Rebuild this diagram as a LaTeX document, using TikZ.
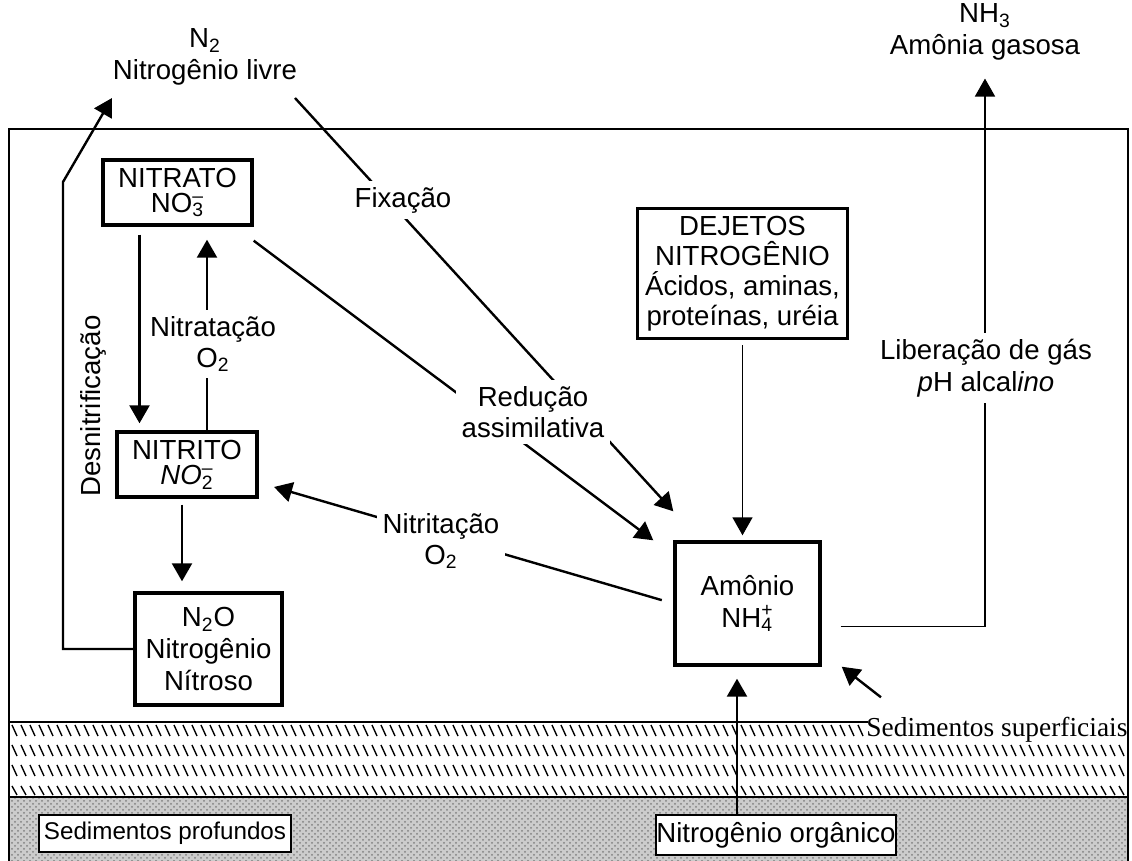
\documentclass[tikz,border=0pt]{standalone}
\usepackage{fontspec}
\setmainfont{Liberation Sans}
\newfontfamily\timesfont{Liberation Serif}
\usepackage{tikz}
\usetikzlibrary{arrows.meta}
\usetikzlibrary{patterns}
\newcommand{\subsup}[2]{\rlap{\textsubscript{#1}}\textsuperscript{#2}}
\tikzstyle{box}=[draw, line width=1.7pt, fill=white, align=center, inner sep=0]
\tikzstyle{proc}=[align=center, inner sep=3pt, fill=white]
\tikzstyle{flow}=[line width=1.2pt, -{Triangle[length=9pt,width=10pt]}]
\tikzstyle{ncycle}=[x=0.5pt, y=-0.5pt,
                    % Same text size everywhere.
                    every node/.style={font=\fontsize{13.8}{15.8}\selectfont}]

\begin{document}
\begin{tikzpicture}[ncycle]
        \useasboundingbox (0,0) rectangle (1132,861);
        % sediments
        \fill[black!20] (9,797) rectangle (1128,861);
        \fill[pattern=crosshatch dots, pattern color=black!50] (9,797) rectangle (1128,861);
        \foreach \ya/\yb/\xe in {725/736/860, 745/756/1120, 765/776/1120, 786/795/1120}
            \foreach \x in {12,21,...,\xe}
                \draw[line width=0.7pt] (\x,\ya) -- (\x+5,\yb);
        \draw[line width=1pt] (9,861) -- (9,129) -- (1128,129) -- (1128,861);
        \draw[line width=1pt] (9,722) -- (868,722);
        \draw[line width=1pt] (9,797) -- (1128,797);

        \node[box, minimum width=74.5pt, minimum height=32.5pt] (nitrato) at (177.5,192.5) {NITRATO\\[-3pt]NO\subsup{3}{--}};
        \node[box, minimum width=70pt, minimum height=32.5pt] (nitrito) at (187,464.5) {NITRITO\\[-3pt]\textit{NO}\subsup{2}{--}};
        \node[box, minimum width=73.5pt, minimum height=56pt] (n2o) at (208.5,649) {N\textsubscript{2}O\\Nitrogênio\\Nítroso};
        \node[box, minimum width=105pt, minimum height=65pt, font=\fontsize{13.8}{15}\selectfont] (dejetos) at (742.5,273.5) {DEJETOS\\NITROGÊNIO\\Ácidos, aminas,\\proteínas, uréia};
        \node[box, minimum width=72.5pt, minimum height=61.5pt] (amonio) at (747.5,603.5) {Amônio\\NH\subsup{4}{+}};
        \node[box, line width=1pt, minimum width=126pt, minimum height=18.5pt, font=\fontsize{12.1}{14}\selectfont] (sedprof) at (165,833.5) {Sedimentos profundos};
        \node[box, line width=1pt, minimum width=117pt, minimum height=20pt] (norg) at (776,835) {Nitrogênio orgânico};
        \node[inner sep=0, anchor=base west, font=\timesfont\fontsize{13.7}{16}\selectfont] (sedsup) at (866,737) {Sedimentos superficiais};

        \node[proc] (n2) at (205,57) {N\textsubscript{2}\\Nitrogênio livre};
        \node[proc] (nh3) at (985,32) {NH\textsubscript{3}\\Amônia gasosa};
        \node[rotate=90] (desnit) at (93,406) {Desnitrificação};

        \coordinate (n2in) at (112,98);
        \coordinate (n2out) at (295,98);
        \coordinate (desbend) at (63,182);
        \coordinate (orgin) at ([xshift=-19.5pt]norg.north);

        \draw[flow] (n2o.west) -- (n2o.west -| desbend) -- (desbend) -- (n2in);
        \draw[flow, shorten <=4pt, shorten >=3.5pt] ([xshift=-19pt]nitrato.south) -- ([xshift=-19pt]nitrato.south |- nitrito.north);
        \draw[flow, shorten >=6.5pt] ([xshift=10pt]nitrito.north) -- ([xshift=10pt]nitrito.north |- nitrato.south);
        \draw[flow, shorten <=3pt, shorten >=5pt] ([xshift=-2.5pt]nitrito.south) -- ([xshift=-2.5pt]nitrito.south |- n2o.north);
        \draw[flow] (n2out) -- ([yshift=14.5pt]amonio.north west);
        \draw[flow] ([yshift=-7pt]nitrato.south east) -- ([xshift=-10pt]amonio.north west);
        \draw[flow, shorten <=6pt, shorten >=8pt] (amonio.west) -- ([yshift=-9pt]nitrito.east);
        \draw[flow, line width=0.8pt, shorten <=2.5pt, shorten >=2.5pt] (dejetos.south) -- (dejetos.south |- amonio.north);
        \draw[flow, line width=0.9pt, shorten >=6pt] ([xshift=9.5pt,yshift=-11.5pt]amonio.east) -| (nh3.south);
        \draw[flow, shorten >=6pt] (orgin) -- (orgin |- amonio.south);
        \draw[flow] ([xshift=7.5pt,yshift=10pt]sedsup.north west) -- ([xshift=10pt]amonio.south east);

        \node[proc] (fixacao) at (403,200) {Fixação};
        \node[proc] (reducao) at (533,412) {Redução\\assimilativa};
        \node[proc] (nitritacao) at (441,541) {Nitritação\\O\textsubscript{2}};
        \node[proc] (nitratacao) at (213,344) {Nitratação\\O\textsubscript{2}};
        \node[proc] (liberacao) at (986,368) {Liberação de gás\\\textit{p}H alcal\textit{ino}};
    \end{tikzpicture}
\end{document}
